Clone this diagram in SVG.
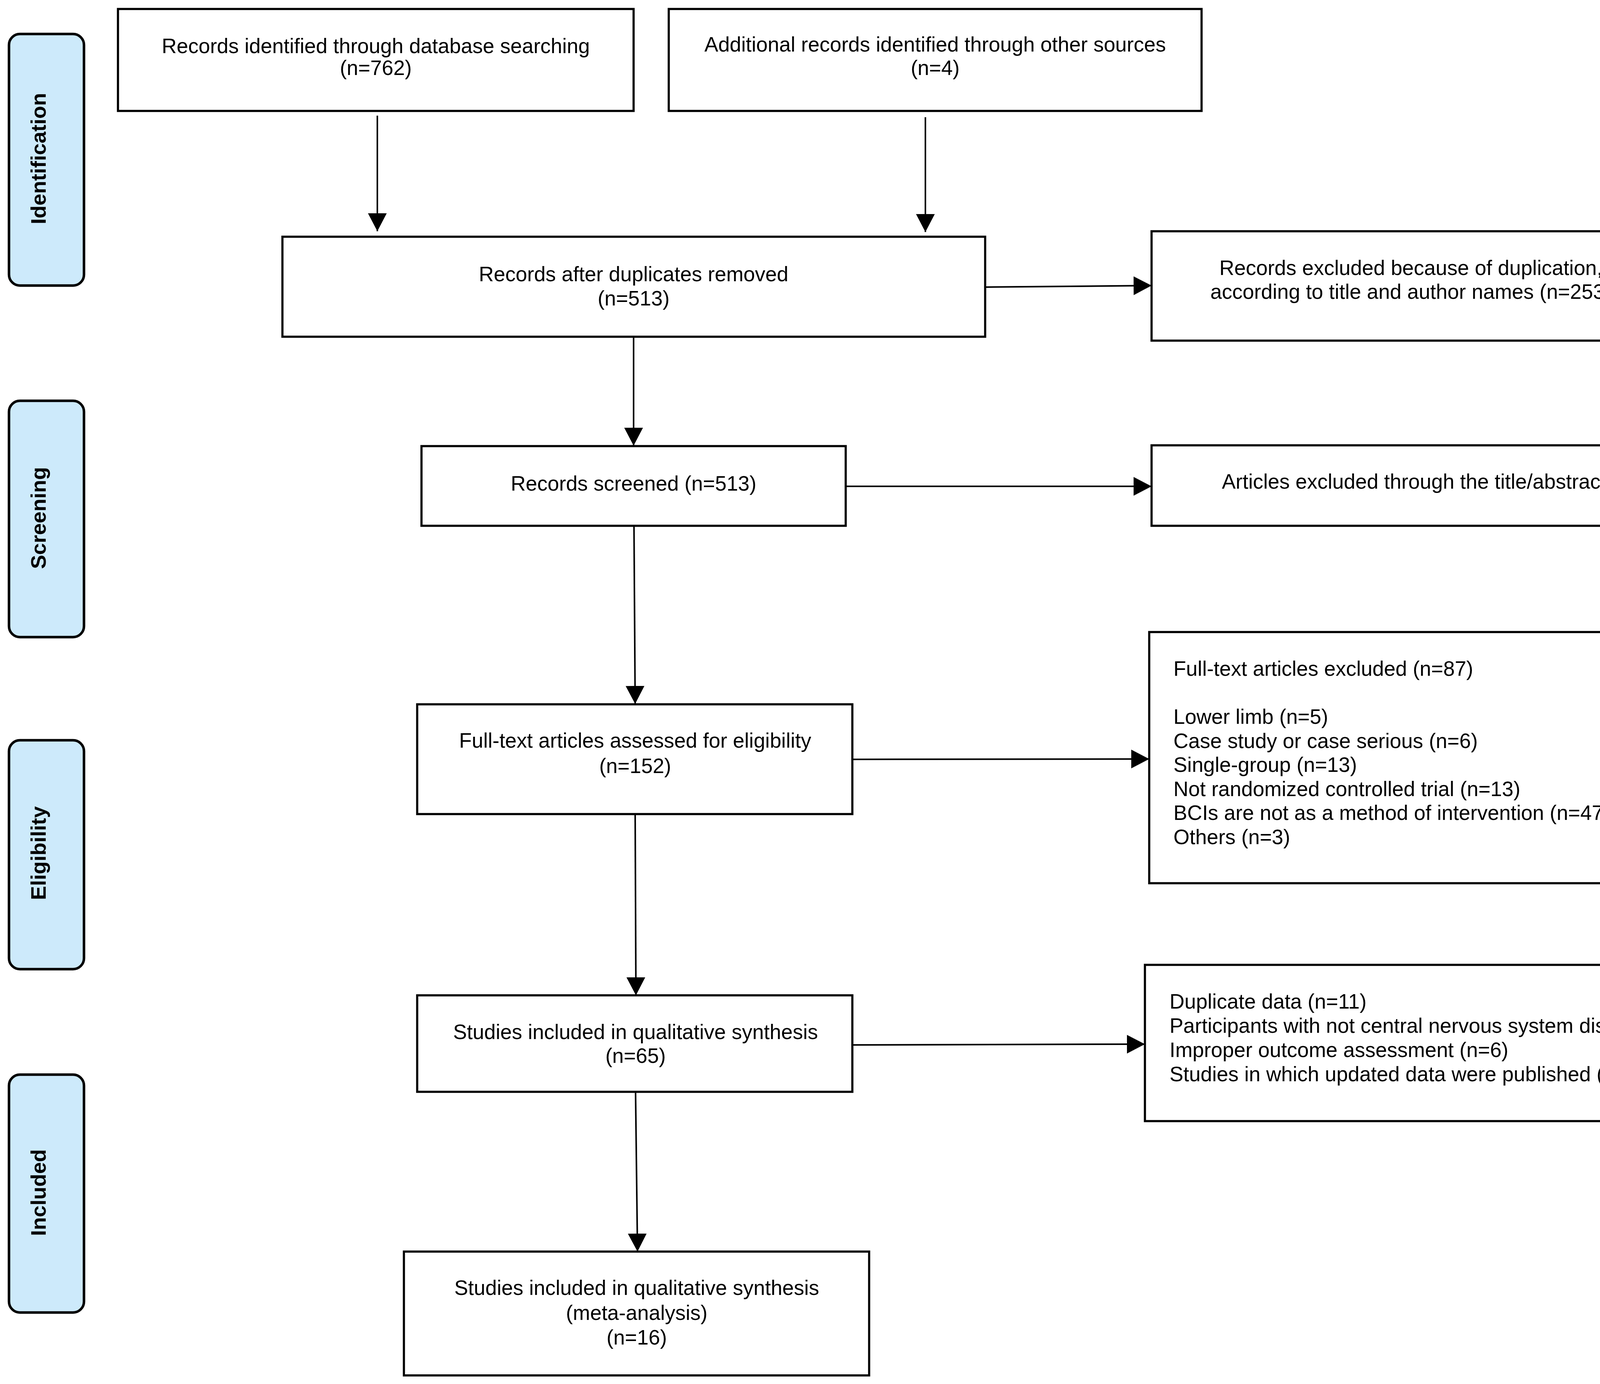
<svg xmlns="http://www.w3.org/2000/svg" width="4550" height="3543" viewBox="0 0 4550 3543">
<style>
.box{fill:#ffffff;stroke:#000000;stroke-width:5.5}
.side{fill:#cdeafb;stroke:#000000;stroke-width:6.5}
.t{font-family:"Liberation Sans",Arial,sans-serif;font-size:53px;fill:#000000}
.c{text-anchor:middle}
.s{font-family:"Liberation Sans",Arial,sans-serif;font-size:54px;font-weight:bold;fill:#000000;text-anchor:middle}
.ln{stroke:#000000;stroke-width:4;fill:none}
</style>
<defs>
<marker id="ah" markerUnits="userSpaceOnUse" markerWidth="50" markerHeight="50" refX="46" refY="24" orient="auto">
<path d="M0,0 L46,24 L0,48 Z" fill="#000000"/>
</marker>
</defs>
<rect width="4550" height="3543" fill="#ffffff"/>

<g id="phase-identification">
<rect class="side" x="23" y="87" width="192" height="644" rx="28" ry="28"/>
<text class="s" transform="translate(117,406) rotate(-90)" font-size="53">Identification</text>
</g>
<g id="phase-screening">
<rect class="side" x="23" y="1026" width="192" height="605" rx="28" ry="28"/>
<text class="s" transform="translate(117,1326) rotate(-90)">Screening</text>
</g>
<g id="phase-eligibility">
<rect class="side" x="23" y="1895" width="192" height="586" rx="28" ry="28"/>
<text class="s" transform="translate(117,2184) rotate(-90)" font-size="53">Eligibility</text>
</g>
<g id="phase-included">
<rect class="side" x="23" y="2751" width="192" height="609" rx="28" ry="28"/>
<text class="s" transform="translate(117,3053) rotate(-90)">Included</text>
</g>

<g id="connectors">
<line class="ln" x1="966" y1="296" x2="966" y2="592" marker-end="url(#ah)"/>
<line class="ln" x1="2369" y1="300" x2="2369" y2="594" marker-end="url(#ah)"/>
<line class="ln" x1="2522" y1="735" x2="2948" y2="731" marker-end="url(#ah)"/>
<line class="ln" x1="1622" y1="862" x2="1622" y2="1141" marker-end="url(#ah)"/>
<line class="ln" x1="2165" y1="1245" x2="2948" y2="1245" marker-end="url(#ah)"/>
<line class="ln" x1="1623" y1="1346" x2="1626" y2="1802" marker-end="url(#ah)"/>
<line class="ln" x1="2182" y1="1944" x2="2942" y2="1943" marker-end="url(#ah)"/>
<line class="ln" x1="1626" y1="2084" x2="1628" y2="2548" marker-end="url(#ah)"/>
<line class="ln" x1="2182" y1="2675" x2="2931" y2="2673" marker-end="url(#ah)"/>
<line class="ln" x1="1627" y1="2794" x2="1632" y2="3204" marker-end="url(#ah)"/>
</g>

<g id="records-database">
<rect class="box" x="302" y="23" width="1320" height="261"/>
<text class="t c" x="962" y="136">Records identified through database searching</text>
<text class="t c" x="962" y="192">(n=762)</text>
</g>
<g id="records-other">
<rect class="box" x="1712" y="23" width="1364" height="261"/>
<text class="t c" x="2394" y="132">Additional records identified through other sources</text>
<text class="t c" x="2394" y="192">(n=4)</text>
</g>
<g id="records-after-duplicates">
<rect class="box" x="723" y="606" width="1799" height="256"/>
<text class="t c" x="1622" y="720">Records after duplicates removed</text>
<text class="t c" x="1622" y="782">(n=513)</text>
</g>
<g id="records-excluded-duplication">
<rect class="box" x="2948" y="592" width="1329" height="280"/>
<text class="t c" x="3612" y="704">Records excluded because of duplication,</text>
<text class="t c" x="3612" y="765">according to title and author names (n=253)</text>
</g>
<g id="records-screened">
<rect class="box" x="1079" y="1142" width="1086" height="204"/>
<text class="t c" x="1622" y="1256">Records screened (n=513)</text>
</g>
<g id="articles-excluded-title">
<rect class="box" x="2948" y="1140" width="1345" height="206"/>
<text class="t c" x="3620" y="1251">Articles excluded through the title/abstract</text>
</g>
<g id="fulltext-assessed">
<rect class="box" x="1068" y="1803" width="1114" height="281"/>
<text class="t c" x="1626" y="1914">Full-text articles assessed for eligibility</text>
<text class="t c" x="1626" y="1979">(n=152)</text>
</g>
<g id="fulltext-excluded">
<rect class="box" x="2942" y="1618" width="1357" height="643"/>
<text class="t" x="3004" y="1730">Full-text articles excluded (n=87)</text>
<text class="t" x="3004" y="1853">Lower limb (n=5)</text>
<text class="t" x="3004" y="1915">Case study or case serious (n=6)</text>
<text class="t" x="3004" y="1976">Single-group (n=13)</text>
<text class="t" x="3004" y="2038">Not randomized controlled trial (n=13)</text>
<text class="t" x="3004" y="2099">BCIs are not as a method of intervention (n=47)</text>
<text class="t" x="3004" y="2161">Others (n=3)</text>
</g>
<g id="studies-qualitative">
<rect class="box" x="1068" y="2548" width="1114" height="247"/>
<text class="t c" x="1627" y="2660">Studies included in qualitative synthesis</text>
<text class="t c" x="1627" y="2721">(n=65)</text>
</g>
<g id="studies-excluded">
<rect class="box" x="2931" y="2470" width="1605" height="400"/>
<text class="t" x="2994" y="2582">Duplicate data (n=11)</text>
<text class="t" x="2994" y="2644">Participants with not central nervous system diseases(n=29)</text>
<text class="t" x="2994" y="2706">Improper outcome assessment (n=6)</text>
<text class="t" x="2994" y="2768">Studies in which updated data were published (n=3)</text>
</g>
<g id="studies-meta-analysis">
<rect class="box" x="1034" y="3204" width="1191" height="317"/>
<text class="t c" x="1630" y="3315">Studies included in qualitative synthesis</text>
<text class="t c" x="1630" y="3379">(meta-analysis)</text>
<text class="t c" x="1630" y="3442">(n=16)</text>
</g>
</svg>
